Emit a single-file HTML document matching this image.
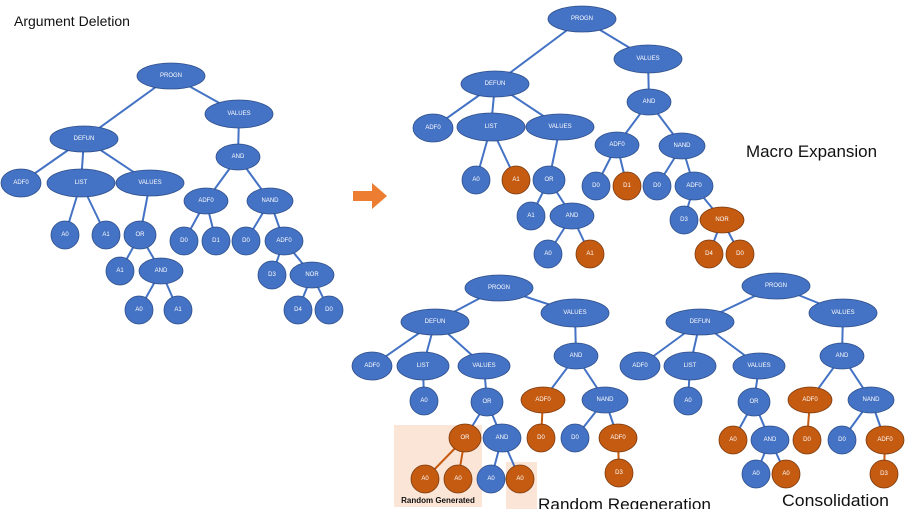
<!DOCTYPE html>
<html><head><meta charset="utf-8"><style>
html,body{margin:0;padding:0;background:#fff;width:906px;height:509px;overflow:hidden}
svg{display:block}
.b{fill:#4472C4;stroke:#2F4F8A;stroke-width:0.8}
.o{fill:#C55A11;stroke:#7A3A0E;stroke-width:0.8}
.t{fill:#fff;font-family:"Liberation Sans",sans-serif;font-size:6px;text-anchor:middle;dominant-baseline:central}
.l line{stroke:#4472C4;stroke-width:2}
.lo line{stroke:#C55A11;stroke-width:2}
.h{font-family:"Liberation Sans","Noto Sans CJK SC",sans-serif;fill:#111}
</style></head><body>
<svg width="906" height="509" viewBox="0 0 906 509">
<rect x="394" y="425" width="88" height="82" fill="#FBE5D6"/>
<rect x="506" y="462" width="31" height="47" fill="#FBE5D6"/>
<text class="h" x="14" y="26" font-size="14">Argument Deletion</text>
<text class="h" x="746" y="157" font-size="17" textLength="131" lengthAdjust="spacingAndGlyphs">Macro Expansion</text>
<text class="h" x="538" y="510" font-size="17" textLength="173" lengthAdjust="spacingAndGlyphs">Random Regeneration</text>
<text class="h" x="782" y="506" font-size="17" textLength="107" lengthAdjust="spacingAndGlyphs">Consolidation</text>
<text class="h" x="438" y="503" font-size="8" font-weight="bold" text-anchor="middle">Random Generated</text>
<polygon points="353,191 372,191 372,183 387,196 372,209 372,201 353,201" fill="#ED7D31"/>

<g class="l">
<line x1="171" y1="76" x2="84" y2="139"/><line x1="171" y1="76" x2="239" y2="114"/>
<line x1="84" y1="139" x2="21" y2="183"/><line x1="84" y1="139" x2="81" y2="183"/><line x1="84" y1="139" x2="150" y2="183"/>
<line x1="81" y1="183" x2="65" y2="235"/><line x1="81" y1="183" x2="106" y2="235"/>
<line x1="150" y1="183" x2="140" y2="235"/><line x1="140" y1="235" x2="120" y2="271"/><line x1="140" y1="235" x2="161" y2="271"/>
<line x1="161" y1="271" x2="139" y2="310"/><line x1="161" y1="271" x2="178" y2="310"/>
<line x1="239" y1="114" x2="238" y2="157"/><line x1="238" y1="157" x2="206" y2="201"/><line x1="238" y1="157" x2="270" y2="201"/>
<line x1="206" y1="201" x2="184" y2="241"/><line x1="206" y1="201" x2="216" y2="241"/>
<line x1="270" y1="201" x2="246" y2="241"/><line x1="270" y1="201" x2="284" y2="241"/>
<line x1="284" y1="241" x2="272" y2="275"/><line x1="284" y1="241" x2="312" y2="275"/>
<line x1="312" y1="275" x2="298" y2="310"/><line x1="312" y1="275" x2="329" y2="310"/>
</g>
<g class="l">
<line x1="582" y1="19" x2="495" y2="84"/><line x1="582" y1="19" x2="648" y2="59"/>
<line x1="495" y1="84" x2="433" y2="128"/><line x1="495" y1="84" x2="491" y2="127"/><line x1="495" y1="84" x2="560" y2="127"/>
<line x1="491" y1="127" x2="476" y2="180"/><line x1="491" y1="127" x2="516" y2="180"/>
<line x1="560" y1="127" x2="549" y2="180"/><line x1="549" y1="180" x2="531" y2="216"/><line x1="549" y1="180" x2="572" y2="216"/>
<line x1="572" y1="216" x2="548" y2="254"/><line x1="572" y1="216" x2="590" y2="254"/>
<line x1="648" y1="59" x2="649" y2="102"/><line x1="649" y1="102" x2="617" y2="145"/><line x1="649" y1="102" x2="682" y2="146"/>
<line x1="617" y1="145" x2="596" y2="186"/><line x1="617" y1="145" x2="627" y2="186"/>
<line x1="682" y1="146" x2="657" y2="186"/><line x1="682" y1="146" x2="694" y2="186"/>
<line x1="694" y1="186" x2="684" y2="220"/><line x1="694" y1="186" x2="722" y2="220"/>
<line x1="722" y1="220" x2="709" y2="254"/><line x1="722" y1="220" x2="740" y2="254"/>
</g>
<g class="l">
<line x1="499" y1="288" x2="435" y2="322"/><line x1="499" y1="288" x2="575" y2="313"/>
<line x1="435" y1="322" x2="372" y2="366"/><line x1="435" y1="322" x2="423" y2="366"/><line x1="435" y1="322" x2="484" y2="366"/>
<line x1="423" y1="366" x2="424" y2="401"/><line x1="484" y1="366" x2="487" y2="402"/>
<line x1="487" y1="402" x2="465" y2="438"/><line x1="487" y1="402" x2="502" y2="438"/>
<line x1="502" y1="438" x2="491" y2="479"/><line x1="502" y1="438" x2="520" y2="479"/>
<line x1="575" y1="313" x2="576" y2="356"/><line x1="576" y1="356" x2="543" y2="400"/><line x1="576" y1="356" x2="605" y2="400"/>
<line x1="605" y1="400" x2="575" y2="438"/><line x1="605" y1="400" x2="618" y2="438"/>
</g>
<g class="lo">
<line x1="465" y1="438" x2="425" y2="479"/><line x1="465" y1="438" x2="458" y2="479"/>
<line x1="543" y1="400" x2="541" y2="438"/><line x1="618" y1="438" x2="619" y2="473"/>
</g>
<g class="l">
<line x1="776" y1="286" x2="700" y2="322"/><line x1="776" y1="286" x2="843" y2="313"/>
<line x1="700" y1="322" x2="640" y2="366"/><line x1="700" y1="322" x2="690" y2="366"/><line x1="700" y1="322" x2="759" y2="366"/>
<line x1="690" y1="366" x2="688" y2="401"/><line x1="759" y1="366" x2="754" y2="402"/>
<line x1="754" y1="402" x2="733" y2="440"/><line x1="754" y1="402" x2="770" y2="440"/>
<line x1="770" y1="440" x2="756" y2="474"/><line x1="770" y1="440" x2="786" y2="474"/>
<line x1="843" y1="313" x2="842" y2="356"/><line x1="842" y1="356" x2="810" y2="400"/><line x1="842" y1="356" x2="871" y2="400"/>
<line x1="871" y1="400" x2="842" y2="440"/><line x1="871" y1="400" x2="885" y2="440"/>
</g>
<g class="lo">
<line x1="810" y1="400" x2="807" y2="440"/><line x1="885" y1="440" x2="884" y2="474"/>
</g>

<ellipse class="b" cx="171" cy="76" rx="34" ry="13"/><text class="t" x="171" y="76">PROGN</text>
<ellipse class="b" cx="239" cy="114" rx="34" ry="14"/><text class="t" x="239" y="114">VALUES</text>
<ellipse class="b" cx="84" cy="139" rx="34" ry="13"/><text class="t" x="84" y="139">DEFUN</text>
<ellipse class="b" cx="238" cy="157" rx="22" ry="13"/><text class="t" x="238" y="157">AND</text>
<ellipse class="b" cx="21" cy="183" rx="20" ry="14"/><text class="t" x="21" y="183">ADF0</text>
<ellipse class="b" cx="81" cy="183" rx="34" ry="14"/><text class="t" x="81" y="183">LIST</text>
<ellipse class="b" cx="150" cy="183" rx="34" ry="13"/><text class="t" x="150" y="183">VALUES</text>
<ellipse class="b" cx="206" cy="201" rx="22" ry="13"/><text class="t" x="206" y="201">ADF0</text>
<ellipse class="b" cx="270" cy="201" rx="23" ry="13"/><text class="t" x="270" y="201">NAND</text>
<ellipse class="b" cx="65" cy="235" rx="14" ry="14"/><text class="t" x="65" y="235">A0</text>
<ellipse class="b" cx="106" cy="235" rx="14" ry="14"/><text class="t" x="106" y="235">A1</text>
<ellipse class="b" cx="140" cy="235" rx="16" ry="14"/><text class="t" x="140" y="235">OR</text>
<ellipse class="b" cx="184" cy="241" rx="14" ry="14"/><text class="t" x="184" y="241">D0</text>
<ellipse class="b" cx="216" cy="241" rx="14" ry="14"/><text class="t" x="216" y="241">D1</text>
<ellipse class="b" cx="246" cy="241" rx="14" ry="14"/><text class="t" x="246" y="241">D0</text>
<ellipse class="b" cx="284" cy="241" rx="19" ry="14"/><text class="t" x="284" y="241">ADF0</text>
<ellipse class="b" cx="120" cy="271" rx="14" ry="14"/><text class="t" x="120" y="271">A1</text>
<ellipse class="b" cx="161" cy="271" rx="22" ry="13"/><text class="t" x="161" y="271">AND</text>
<ellipse class="b" cx="272" cy="275" rx="14" ry="14"/><text class="t" x="272" y="275">D3</text>
<ellipse class="b" cx="312" cy="275" rx="22" ry="13"/><text class="t" x="312" y="275">NOR</text>
<ellipse class="b" cx="139" cy="310" rx="14" ry="14"/><text class="t" x="139" y="310">A0</text>
<ellipse class="b" cx="178" cy="310" rx="14" ry="14"/><text class="t" x="178" y="310">A1</text>
<ellipse class="b" cx="298" cy="310" rx="14" ry="14"/><text class="t" x="298" y="310">D4</text>
<ellipse class="b" cx="329" cy="310" rx="14" ry="14"/><text class="t" x="329" y="310">D0</text>

<ellipse class="b" cx="582" cy="19" rx="34" ry="13"/><text class="t" x="582" y="19">PROGN</text>
<ellipse class="b" cx="648" cy="59" rx="34" ry="14"/><text class="t" x="648" y="59">VALUES</text>
<ellipse class="b" cx="495" cy="84" rx="34" ry="13"/><text class="t" x="495" y="84">DEFUN</text>
<ellipse class="b" cx="649" cy="102" rx="22" ry="13"/><text class="t" x="649" y="102">AND</text>
<ellipse class="b" cx="433" cy="128" rx="20" ry="14"/><text class="t" x="433" y="128">ADF0</text>
<ellipse class="b" cx="491" cy="127" rx="34" ry="14"/><text class="t" x="491" y="127">LIST</text>
<ellipse class="b" cx="560" cy="127" rx="34" ry="13"/><text class="t" x="560" y="127">VALUES</text>
<ellipse class="b" cx="617" cy="145" rx="22" ry="13"/><text class="t" x="617" y="145">ADF0</text>
<ellipse class="b" cx="682" cy="146" rx="23" ry="13"/><text class="t" x="682" y="146">NAND</text>
<ellipse class="b" cx="476" cy="180" rx="14" ry="14"/><text class="t" x="476" y="180">A0</text>
<ellipse class="o" cx="516" cy="180" rx="14" ry="14"/><text class="t" x="516" y="180">A1</text>
<ellipse class="b" cx="549" cy="180" rx="16" ry="14"/><text class="t" x="549" y="180">OR</text>
<ellipse class="b" cx="596" cy="186" rx="14" ry="14"/><text class="t" x="596" y="186">D0</text>
<ellipse class="o" cx="627" cy="186" rx="14" ry="14"/><text class="t" x="627" y="186">D1</text>
<ellipse class="b" cx="657" cy="186" rx="14" ry="14"/><text class="t" x="657" y="186">D0</text>
<ellipse class="b" cx="694" cy="186" rx="19" ry="14"/><text class="t" x="694" y="186">ADF0</text>
<ellipse class="b" cx="531" cy="216" rx="14" ry="14"/><text class="t" x="531" y="216">A1</text>
<ellipse class="b" cx="572" cy="216" rx="22" ry="13"/><text class="t" x="572" y="216">AND</text>
<ellipse class="b" cx="684" cy="220" rx="14" ry="14"/><text class="t" x="684" y="220">D3</text>
<ellipse class="o" cx="722" cy="220" rx="22" ry="13"/><text class="t" x="722" y="220">NOR</text>
<ellipse class="b" cx="548" cy="254" rx="14" ry="14"/><text class="t" x="548" y="254">A0</text>
<ellipse class="o" cx="590" cy="254" rx="14" ry="14"/><text class="t" x="590" y="254">A1</text>
<ellipse class="o" cx="709" cy="254" rx="14" ry="14"/><text class="t" x="709" y="254">D4</text>
<ellipse class="o" cx="740" cy="254" rx="14" ry="14"/><text class="t" x="740" y="254">D0</text>

<ellipse class="b" cx="499" cy="288" rx="34" ry="13"/><text class="t" x="499" y="288">PROGN</text>
<ellipse class="b" cx="575" cy="313" rx="34" ry="14"/><text class="t" x="575" y="313">VALUES</text>
<ellipse class="b" cx="435" cy="322" rx="34" ry="13"/><text class="t" x="435" y="322">DEFUN</text>
<ellipse class="b" cx="576" cy="356" rx="22" ry="13"/><text class="t" x="576" y="356">AND</text>
<ellipse class="b" cx="372" cy="366" rx="20" ry="14"/><text class="t" x="372" y="366">ADF0</text>
<ellipse class="b" cx="423" cy="366" rx="26" ry="14"/><text class="t" x="423" y="366">LIST</text>
<ellipse class="b" cx="484" cy="366" rx="26" ry="13"/><text class="t" x="484" y="366">VALUES</text>
<ellipse class="o" cx="543" cy="400" rx="22" ry="13"/><text class="t" x="543" y="400">ADF0</text>
<ellipse class="b" cx="605" cy="400" rx="23" ry="13"/><text class="t" x="605" y="400">NAND</text>
<ellipse class="b" cx="424" cy="401" rx="14" ry="14"/><text class="t" x="424" y="401">A0</text>
<ellipse class="b" cx="487" cy="402" rx="16" ry="14"/><text class="t" x="487" y="402">OR</text>
<ellipse class="o" cx="465" cy="438" rx="16" ry="14"/><text class="t" x="465" y="438">OR</text>
<ellipse class="b" cx="502" cy="438" rx="19" ry="14"/><text class="t" x="502" y="438">AND</text>
<ellipse class="o" cx="541" cy="438" rx="14" ry="14"/><text class="t" x="541" y="438">D0</text>
<ellipse class="b" cx="575" cy="438" rx="14" ry="14"/><text class="t" x="575" y="438">D0</text>
<ellipse class="o" cx="618" cy="438" rx="19" ry="14"/><text class="t" x="618" y="438">ADF0</text>
<ellipse class="o" cx="619" cy="473" rx="14" ry="14"/><text class="t" x="619" y="473">D3</text>
<ellipse class="o" cx="425" cy="479" rx="14" ry="14"/><text class="t" x="425" y="479">A0</text>
<ellipse class="o" cx="458" cy="479" rx="14" ry="14"/><text class="t" x="458" y="479">A0</text>
<ellipse class="b" cx="491" cy="479" rx="14" ry="14"/><text class="t" x="491" y="479">A0</text>
<ellipse class="o" cx="520" cy="479" rx="14" ry="14"/><text class="t" x="520" y="479">A0</text>

<ellipse class="b" cx="776" cy="286" rx="34" ry="13"/><text class="t" x="776" y="286">PROGN</text>
<ellipse class="b" cx="843" cy="313" rx="34" ry="14"/><text class="t" x="843" y="313">VALUES</text>
<ellipse class="b" cx="700" cy="322" rx="34" ry="13"/><text class="t" x="700" y="322">DEFUN</text>
<ellipse class="b" cx="842" cy="356" rx="22" ry="13"/><text class="t" x="842" y="356">AND</text>
<ellipse class="b" cx="640" cy="366" rx="20" ry="14"/><text class="t" x="640" y="366">ADF0</text>
<ellipse class="b" cx="690" cy="366" rx="26" ry="14"/><text class="t" x="690" y="366">LIST</text>
<ellipse class="b" cx="759" cy="366" rx="26" ry="13"/><text class="t" x="759" y="366">VALUES</text>
<ellipse class="b" cx="688" cy="401" rx="14" ry="14"/><text class="t" x="688" y="401">A0</text>
<ellipse class="b" cx="754" cy="402" rx="16" ry="14"/><text class="t" x="754" y="402">OR</text>
<ellipse class="o" cx="810" cy="400" rx="22" ry="13"/><text class="t" x="810" y="400">ADF0</text>
<ellipse class="b" cx="871" cy="400" rx="23" ry="13"/><text class="t" x="871" y="400">NAND</text>
<ellipse class="o" cx="733" cy="440" rx="14" ry="14"/><text class="t" x="733" y="440">A0</text>
<ellipse class="b" cx="770" cy="440" rx="19" ry="14"/><text class="t" x="770" y="440">AND</text>
<ellipse class="o" cx="807" cy="440" rx="14" ry="14"/><text class="t" x="807" y="440">D0</text>
<ellipse class="b" cx="842" cy="440" rx="14" ry="14"/><text class="t" x="842" y="440">D0</text>
<ellipse class="o" cx="885" cy="440" rx="19" ry="14"/><text class="t" x="885" y="440">ADF0</text>
<ellipse class="b" cx="756" cy="474" rx="14" ry="14"/><text class="t" x="756" y="474">A0</text>
<ellipse class="o" cx="786" cy="474" rx="14" ry="14"/><text class="t" x="786" y="474">A0</text>
<ellipse class="o" cx="884" cy="474" rx="14" ry="14"/><text class="t" x="884" y="474">D3</text>
</svg>
</body></html>
